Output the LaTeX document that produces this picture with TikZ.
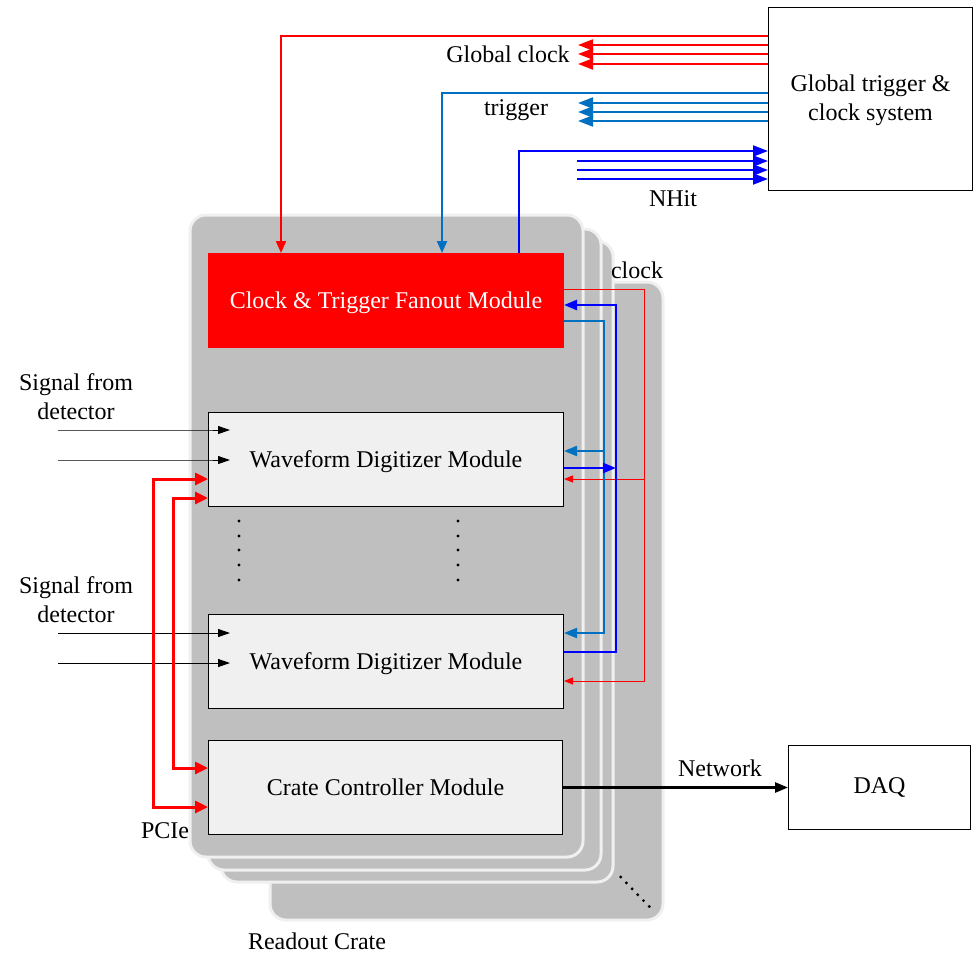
\documentclass[tikz,border=0pt]{standalone}
\usepackage{fontspec}
\setmainfont{Liberation Serif}
\usetikzlibrary{arrows.meta,calc}
\definecolor{cred}{HTML}{FF0000}
\definecolor{cblue}{HTML}{0070C0}
\definecolor{cnavy}{HTML}{0000FF}
\definecolor{cgray}{HTML}{BFBFBF}
\definecolor{clight}{HTML}{F0F0F0}
\begin{document}
\begin{tikzpicture}[x=1pt,y=-1pt,
  every node/.style={font=\fontsize{24}{29}\selectfont},
  crate/.style={fill=cgray,draw=clight,line width=3pt,rounded corners=16pt},
  module/.style={draw=black,line width=1pt,fill=clight,anchor=north west,inner sep=0pt,minimum width=355pt,minimum height=94pt,text height=16.5pt,text depth=0pt},
  txt/.style={inner sep=0pt,align=center},
  bigR/.style={-{Triangle[length=15pt,width=11pt]}},
  midA/.style={-{Triangle[length=13pt,width=10pt]}},
  smallA/.style={-{Triangle[length=9pt,width=7pt]}},
  sigA/.style={-{Triangle[length=12pt,width=8pt]}},
  pcie/.style={draw=cred,line width=3pt,{Triangle[length=13pt,width=12pt]}-{Triangle[length=13pt,width=12pt]}},
  redtop/.style={draw=cred,line width=2pt},
  bluetop/.style={draw=cblue,line width=2pt},
  navytop/.style={draw=cnavy,line width=2pt},
  dotc/.style={fill=black,draw=none}
]
\useasboundingbox (0,0) rectangle (973,953);

% crates (back to front)
\draw[crate] (270,282) rectangle (663,920);
\draw[crate] (221,241) rectangle (613,882);
\draw[crate] (208,229) rectangle (601,870);
\draw[crate] (190,215) rectangle (583,857);

% modules
\node[module,draw=cred,fill=cred,text=white] (ctf) at (208,253) {Clock \& Trigger Fanout Module};
\node[module] (wdm1) at (208,412) {Waveform Digitizer Module};
\node[module] (wdm2) at (208,614) {Waveform Digitizer Module};
\node[module,minimum width=354pt] (ccm) at (208,740) {Crate Controller Module};
\node[draw=black,line width=1pt,fill=white,anchor=north west,minimum width=204pt,minimum height=183pt,inner sep=0pt] (gts) at (768,7) {};
\node[txt] (gtstext) at ([yshift=-1.5pt]gts.center) {Global trigger \&\\clock system};
\node[draw=black,line width=1pt,fill=white,anchor=north west,minimum width=182pt,minimum height=84pt,inner sep=0pt] (daq) at (788,745) {DAQ};

% top: global clock (red)
\draw[redtop,-{Triangle[length=12pt,width=10pt]}] (gts.west |- 0,36) -- (281,36) -- (281,0 |- ctf.north);
\foreach \yy in {45,54,64} \draw[redtop,bigR] (gts.west |- 0,\yy) -- (578,\yy);
% trigger (blue)
\draw[bluetop,-{Triangle[length=12pt,width=10pt]}] (gts.west |- 0,93) -- (442,93) -- (442,0 |- ctf.north);
\foreach \yy in {103,112,121} \draw[bluetop,bigR] (gts.west |- 0,\yy) -- (578,\yy);
% NHit (navy)
\draw[navytop,bigR] (519,0 |- ctf.north) -- (519,151) -- (gts.west |- 0,151);
\foreach \yy in {161,170,179} \draw[navytop,bigR] (577,\yy) -- (gts.west |- 0,\yy);

\node[txt] (lgc) at (508,54) {Global clock};
\node[txt] (ltr) at (516,110.5) {trigger};
\node[txt] (lnh) at (673,199) {NHit};
\node[txt] (lck) at (637,270) {clock};

% right side: clock (thin red)
\draw[cred,line width=1pt,smallA] (ctf.east |- 0,289) -- (644,289) -- (644,681) -- (wdm2.east |- 0,681);
\draw[cred,line width=1pt,smallA] (644,479) -- (wdm1.east |- 0,479);
% trigger (blue)
\draw[cblue,line width=2pt,midA] (ctf.east |- 0,321) -- (604,321) -- (604,633) -- (wdm2.east |- 0,633);
\draw[cblue,line width=2pt,midA] (604,451) -- (wdm1.east |- 0,451);
% NHit (navy)
\draw[cnavy,line width=2.5pt,midA] (wdm2.east |- 0,652) -- (616,652) -- (616,305) -- (ctf.east |- 0,305);
\draw[cnavy,line width=2.5pt,midA] (wdm1.east |- 0,468) -- (616,468);

% signals from detector
\coordinate (s1) at (58,430);
\coordinate (s2) at (58,460);
\coordinate (s3) at (58,633);
\coordinate (s4) at (58,663);
\draw[black,line width=1pt,sigA] (s1) -- (wdm1.west |- s1) -- ++(22,0);
\draw[black,line width=1pt,sigA] (s2) -- (wdm1.west |- s2) -- ++(22,0);
\draw[black,line width=1pt,sigA] (s3) -- (wdm2.west |- s3) -- ++(22,0);
\draw[black,line width=1pt,sigA] (s4) -- (wdm2.west |- s4) -- ++(22,0);
\node[txt] (sig1) at (76,397) {Signal from\\detector};
\node[txt] (sig2) at (76,600) {Signal from\\detector};

% PCIe
\draw[pcie] (wdm1.west |- 0,479) -- (153,479) -- (153,807) -- (ccm.west |- 0,807);
\draw[pcie] (wdm1.west |- 0,498) -- (173,498) -- (173,768) -- (ccm.west |- 0,768);
\node[txt] (lpcie) at (165,831) {PCIe};

% network
\draw[black,line width=2.5pt,-{Triangle[length=13pt,width=10pt]}] (ccm.east) -- (daq.west);
\node[txt] (lnet) at (720,768) {Network};

\node[txt] (lrc) at (317,941) {Readout Crate};

% dots
\foreach \yy in {521,536,550,565,580} {
  \fill[dotc] (239,\yy) circle (1.6);
  \fill[dotc] (458,\yy) circle (1.6);
}
\foreach \i in {0,...,5} \fill[dotc] (620.7+5.7*\i,877+5.9*\i) circle (1.6);
\end{tikzpicture}
\end{document}
